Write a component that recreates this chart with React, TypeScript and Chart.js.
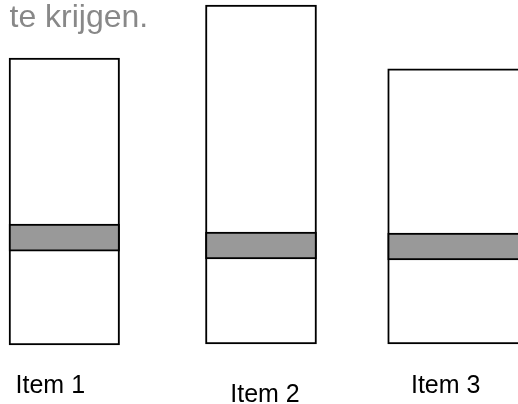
import React, { useEffect, useRef } from "react";
import { Chart, registerables } from "chart.js";

Chart.register(...registerables);

// ---- data (units: 0 = box bottom, 100 = top of the tallest box)
const categories: string[] = ["Item 1", "Item 2", "Item 3"];
const boxLow: number[] = [0, 0.3, 0.3];
const boxHigh: number[] = [84.4, 100, 81.2];
const bandLow: number[] = [27.6, 25.3, 25.0];
const bandHigh: number[] = [35.6, 33.2, 32.9];
const captionText = "te krijgen.";

// ---- styling constants
const boxThickness = [110.5, 111, 140];
const labelDx = [-14, 4, -12];
const labelDy = [48, 56.7, 48];

const pick = (lo: number[], hi: number[], i: number) =>
  categories.map((_, j) => (j === i ? [lo[j], hi[j]] : null));

const textPlugin = {
  id: "customText",
  afterDraw(chart: any) {
    const ctx = chart.ctx as CanvasRenderingContext2D;
    const xs = chart.scales.x;
    const area = chart.chartArea;
    ctx.save();
    ctx.fillStyle = "#000";
    ctx.font = '25px "Liberation Sans", Arial, Helvetica, sans-serif';
    ctx.textAlign = "center";
    ctx.textBaseline = "alphabetic";
    categories.forEach((c, i) => {
      ctx.fillText(c, xs.getPixelForValue(i) + labelDx[i], area.bottom + labelDy[i]);
    });
    ctx.fillStyle = "#888";
    ctx.font = '32px "Liberation Sans", Arial, Helvetica, sans-serif';
    ctx.textAlign = "left";
    ctx.fillText(captionText, 9.5, 26.7);
    ctx.restore();
  },
};

export default function App() {
  const ref = useRef<HTMLCanvasElement | null>(null);

  useEffect(() => {
    if (!ref.current) return;
    const bandSets = categories.map((c, i) => ({
      label: c + " band",
      data: pick(bandLow, bandHigh, i) as any,
      backgroundColor: "#999999",
      borderColor: "#000",
      borderWidth: 2,
      borderSkipped: false as const,
      barThickness: boxThickness[i],
      grouped: false,
      clip: false as any,
    }));
    const boxSets = categories.map((c, i) => ({
      label: c,
      data: pick(boxLow, boxHigh, i) as any,
      backgroundColor: "#ffffff",
      borderColor: "#000",
      borderWidth: 2,
      borderSkipped: false as const,
      barThickness: boxThickness[i],
      grouped: false,
      clip: false as any,
    }));
    const chart = new Chart(ref.current, {
      type: "bar",
      data: { labels: categories, datasets: [...bandSets, ...boxSets] },
      options: {
        animation: false,
        responsive: false,
        devicePixelRatio: 1,
        layout: { padding: { left: 64.3, right: 60.3, top: 5, bottom: 59 } },
        scales: {
          x: { type: "category", offset: false, display: false },
          y: { type: "linear", min: 0, max: 100, display: false },
        },
        plugins: {
          legend: { display: false },
          tooltip: { enabled: false },
          title: { display: false },
        },
      },
      plugins: [textPlugin],
    });
    return () => chart.destroy();
  }, []);

  return (
    <div
      style={{
        position: "fixed",
        left: 0,
        top: 0,
        width: 518,
        height: 404,
        overflow: "hidden",
        background: "#fff",
      }}
    >
      <canvas ref={ref} width={518} height={404} style={{ width: 518, height: 404 }} />
    </div>
  );
}
